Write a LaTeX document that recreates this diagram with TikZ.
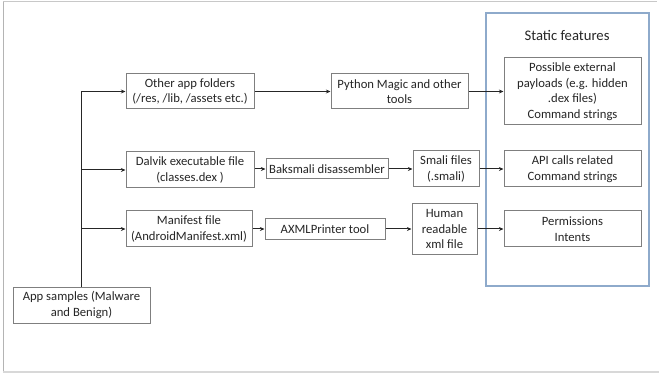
\documentclass[tikz,border=0pt]{standalone}
\usepackage{fontspec}
\setmainfont{Carlito}
\usepackage{xcolor}
\usepackage{tikz}
\usetikzlibrary{arrows.meta}
\usetikzlibrary{positioning}

\definecolor{boxline}{HTML}{7F7F7F}
\definecolor{framegray}{HTML}{C8C8C8}
\definecolor{staticblue}{HTML}{8EAACB}
\definecolor{inktext}{HTML}{262626}

\begin{document}
\begin{tikzpicture}[x=0.75pt, y=-0.75pt]

    % Styles for the boxes and arrows
    \tikzstyle{proc} = [draw=boxline, line width=0.75pt, fill=white, inner sep=0pt,
        align=center, text=inktext, font=\fontsize{9.5}{11.7}\selectfont]
    \tikzstyle{flow} = [draw=black!85, line width=0.75pt, -{Stealth[length=3.5pt, width=3pt]}]

    \useasboundingbox (0,0) rectangle (659,377);

    % Page frame
    \draw[framegray, line width=0.75pt] (3,2) -- (657,2);
    \draw[framegray!90!black, line width=0.75pt] (3,2) -- (3,372);
    \draw[framegray!70, line width=1.5pt] (3,372) -- (659,372);

    % Static feature group
    \draw[staticblue, line width=1pt] (486,13) rectangle (649,286);
    \node[text=inktext, font=\fontsize{11}{13}\selectfont] (static) at (567,35) {Static features};

    % Define nodes
    \node[proc, minimum width=128*0.75pt, minimum height=35*0.75pt] (other) at (190,91.5)
        {Other app folders\\(/res, /lib, /assets etc.)};
    \node[proc, minimum width=137*0.75pt, minimum height=35*0.75pt] (magic) at (399.5,91.5)
        {Python Magic and other\\tools};
    \node[proc, minimum width=137*0.75pt, minimum height=67*0.75pt] (payload) at (572.5,91.5)
        {Possible external\\payloads (e.g. hidden\\.dex files)\\Command strings};

    \node[proc, minimum width=128*0.75pt, minimum height=36*0.75pt] (dalvik) at (190,170)
        {Dalvik executable file\\(classes.dex )};
    \node[proc, minimum width=122*0.75pt, minimum height=20*0.75pt] (baksmali) at (327,169)
        {Baksmali disassembler};
    \node[proc, minimum width=66*0.75pt, minimum height=36*0.75pt] (smali) at (446,169)
        {Smali files\\(.smali)};
    \node[proc, minimum width=137*0.75pt, minimum height=36*0.75pt] (api) at (572.5,169)
        {API calls related\\Command strings};

    \node[proc, minimum width=126*0.75pt, minimum height=36*0.75pt] (manifest) at (189,229)
        {Manifest file\\(AndroidManifest.xml)};
    \node[proc, minimum width=120*0.75pt, minimum height=21*0.75pt] (axml) at (325,229)
        {AXMLPrinter tool};
    \node[proc, minimum width=65*0.75pt, minimum height=51*0.75pt] (human) at (444.5,229)
        {Human\\readable\\xml file};
    \node[proc, minimum width=137*0.75pt, minimum height=36*0.75pt] (perm) at (572.5,229)
        {Permissions\\Intents};

    \node[proc, minimum width=137*0.75pt, minimum height=36*0.75pt] (samples) at (81.5,305)
        {App samples (Malware\\and Benign)};

    % Connect nodes
    \draw[draw=black!85, line width=0.75pt] (samples.north) -- (samples.north |- other.west);
    \draw[flow] (samples.north |- other.west) -- (other.west);
    \draw[flow] (samples.north |- dalvik.west) -- (dalvik.west);
    \draw[flow] (samples.north |- manifest.west) -- (manifest.west);

    \draw[flow] (other) -- (magic);
    \draw[flow] (magic) -- (payload);
    \draw[flow] (dalvik.east |- baksmali.west) -- (baksmali.west);
    \draw[flow] (baksmali) -- (smali);
    \draw[flow] (smali) -- (api);
    \draw[flow] (manifest) -- (axml);
    \draw[flow] (axml) -- (human);
    \draw[flow] (human) -- (perm);

\end{tikzpicture}
\end{document}
